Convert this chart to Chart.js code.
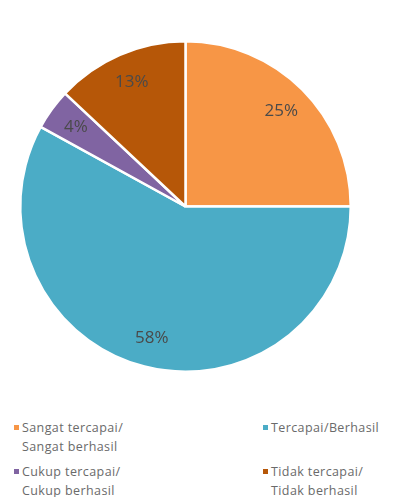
<!DOCTYPE html>
<html>
<head>
<meta charset="utf-8">
<script src="https://cdn.jsdelivr.net/npm/chart.js@4/dist/chart.umd.min.js"></script>
<style>
  html, body { margin: 0; padding: 0; background: #fff; }
  #wrap { position: relative; width: 409px; height: 497px; overflow: hidden; }
  #c { position: absolute; left: 0; top: 0; }
  .leg { position: absolute; font-family: "Open Sans", sans-serif; font-size: 12.5px; color: #6a6a6a; line-height: 19px; letter-spacing: 0.4px; white-space: nowrap; }
  .leg .m { position: absolute; left: -8px; top: 7px; width: 5px; height: 5px; }
</style>
</head>
<body>
<div id="wrap">
  <canvas id="c" width="409" height="413"></canvas>
  <div id="legend"></div>
</div>
<script>
const categories = ["Sangat tercapai/\nSangat berhasil", "Tercapai/Berhasil", "Cukup tercapai/\nCukup berhasil", "Tidak tercapai/\nTidak berhasil"];
const values = [25, 58, 4, 13];
const colors = ["#F79646", "#4BACC6", "#8064A2", "#B65708"];
const pctLabels = ["25%", "58%", "4%", "13%"];

const labelPlugin = {
  id: 'pctLabels',
  afterDatasetsDraw(chart) {
    const ctx = chart.ctx;
    const meta = chart.getDatasetMeta(0);
    ctx.save();
    ctx.font = '17px "Open Sans", sans-serif';
    ctx.fillStyle = '#4a4a4a';
    ctx.textAlign = 'center';
    ctx.textBaseline = 'middle';
    meta.data.forEach((arc, i) => {
      const p = arc.getProps(['x', 'y', 'startAngle', 'endAngle', 'outerRadius'], true);
      const mid = (p.startAngle + p.endAngle) / 2;
      const r = p.outerRadius * 0.82;
      ctx.fillText(pctLabels[i], p.x + Math.cos(mid) * r, p.y + Math.sin(mid) * r);
    });
    ctx.restore();
  }
};

new Chart(document.getElementById('c'), {
  type: 'pie',
  data: {
    labels: categories,
    datasets: [{
      data: values,
      backgroundColor: colors,
      borderColor: '#ffffff',
      borderWidth: 2.5,
      hoverOffset: 0
    }]
  },
  options: {
    responsive: false,
    animation: false,
    layout: { padding: { left: 19, right: 57, top: 40, bottom: 40 } },
    plugins: { legend: { display: false }, tooltip: { enabled: false } }
  },
  plugins: [labelPlugin]
});

// HTML legend built from the category arrays
const legendPos = [[22, 418], [271, 418], [22, 462], [271, 462]];
const legendEl = document.getElementById('legend');
categories.forEach((name, i) => {
  const d = document.createElement('div');
  d.className = 'leg';
  d.style.left = legendPos[i][0] + 'px';
  d.style.top = legendPos[i][1] + 'px';
  const m = document.createElement('span');
  m.className = 'm';
  m.style.background = colors[i];
  d.appendChild(m);
  name.split('\n').forEach((line, j) => {
    if (j > 0) d.appendChild(document.createElement('br'));
    d.appendChild(document.createTextNode(line));
  });
  legendEl.appendChild(d);
});
</script>
</body>
</html>
